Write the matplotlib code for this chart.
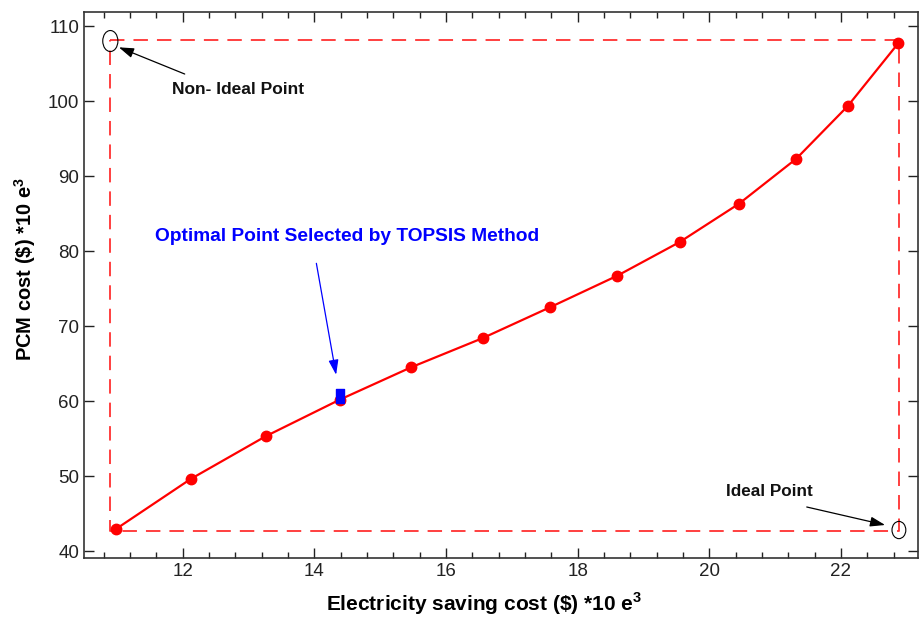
import matplotlib
matplotlib.use("Agg")
import matplotlib.pyplot as plt
from matplotlib.patches import Ellipse
from matplotlib.ticker import MultipleLocator

plt.rcParams['font.family'] = ['Liberation Sans', 'DejaVu Sans']
plt.rcParams['mathtext.fontset'] = 'custom'
plt.rcParams['mathtext.rm'] = 'Liberation Sans'
plt.rcParams['mathtext.bf'] = 'Liberation Sans:bold'

elec_cost = [10.98, 12.12, 13.26, 14.39, 15.47, 16.56, 17.58, 18.60, 19.55, 20.45, 21.32, 22.10, 22.87]
pcm_cost = [42.9, 49.6, 55.3, 60.2, 64.5, 68.4, 72.5, 76.7, 81.2, 86.3, 92.3, 99.3, 107.7]

optimal_x = 14.39
optimal_y = 60.73

non_ideal = (10.89, 108.1)
ideal = (22.88, 42.7)

x_ticks = [12, 14, 16, 18, 20, 22]
y_ticks = [40, 50, 60, 70, 80, 90, 100, 110]

fig = plt.figure(figsize=(9.22, 6.19), dpi=100)
ax = fig.add_axes([84/922, 1-558/619, (918-84)/922, (558-12)/619])

# dashed rectangle between ideal and non-ideal points
ax.plot([non_ideal[0], ideal[0], ideal[0], non_ideal[0], non_ideal[0]],
        [non_ideal[1], non_ideal[1], ideal[1], ideal[1], non_ideal[1]],
        color='#ff3030', lw=1.3, dashes=(8, 5), zorder=1)

ax.plot(elec_cost, pcm_cost, color='#ff0000', lw=1.6, marker='o', ms=7.5,
        markerfacecolor='#ff0000', markeredgecolor='#ff0000', zorder=3)

rect_marker = [(-0.28, -0.5), (0.28, -0.5), (0.28, 0.5), (-0.28, 0.5), (-0.28, -0.5)]
ax.plot([optimal_x], [optimal_y], marker=rect_marker, ms=10.5, color='#0000ff',
        linestyle='none', zorder=4)

# ellipses
ax.add_patch(Ellipse((10.9, 108.0), width=0.23, height=2.8, fill=False, ec='black', lw=0.8))
ax.add_patch(Ellipse((22.88, 42.8), width=0.21, height=2.3, fill=False, ec='black', lw=0.8))

ax.set_xlim(10.5, 23.17)
ax.set_ylim(39.07, 111.87)
ax.set_xticks(x_ticks)
ax.set_yticks(y_ticks)
ax.xaxis.set_minor_locator(MultipleLocator(0.4))
ax.tick_params(axis='both', which='both', direction='in', top=True, right=True,
               labelsize=13.5, colors='#222222')
ax.tick_params(axis='both', which='major', length=7, width=1)
ax.tick_params(axis='x', which='minor', length=4, width=1)
for sp in ax.spines.values():
    sp.set_color('#333333')
    sp.set_linewidth(1.2)

ax.set_xlabel(r'Electricity saving cost (\$) *10 e$^{\mathbf{3}}$', fontsize=15, fontweight='bold')
ax.set_ylabel(r'PCM cost (\$) *10 e$^{\mathbf{3}}$', fontsize=14.5, fontweight='bold')
ax.xaxis.label.set_va('center')
ax.yaxis.label.set_va('center')
ax.xaxis.set_label_coords(0.480, -0.083)
ax.yaxis.set_label_coords(-0.071, 0.529)

arrow_k = dict(arrowstyle='-|>,head_length=0.9,head_width=0.3', color='black', lw=0.9,
               shrinkA=0, shrinkB=0)
ax.text(11.83, 101.6, 'Non- Ideal Point', fontsize=12.5, fontweight='bold',
        ha='left', va='center', color='#111111')
ax.annotate('', xy=(11.03, 107.16), xytext=(12.03, 103.6), arrowprops=arrow_k)
ax.text(20.91, 48.0, 'Ideal Point', fontsize=12.3, fontweight='bold',
        ha='center', va='center', color='#111111')
ax.annotate('', xy=(22.67, 43.47), xytext=(21.48, 45.87), arrowprops=arrow_k)

ax.text(14.49, 82.0, 'Optimal Point Selected by TOPSIS Method', color='#0000ff',
        fontsize=13.8, fontweight='bold', ha='center', va='center')
ax.annotate('', xy=(14.33, 63.5), xytext=(14.03, 78.36),
            arrowprops=dict(arrowstyle='-|>,head_length=0.9,head_width=0.3', color='#0000ff',
                            lw=0.9, shrinkA=0, shrinkB=0))

fig.savefig('out.png', dpi=100)
